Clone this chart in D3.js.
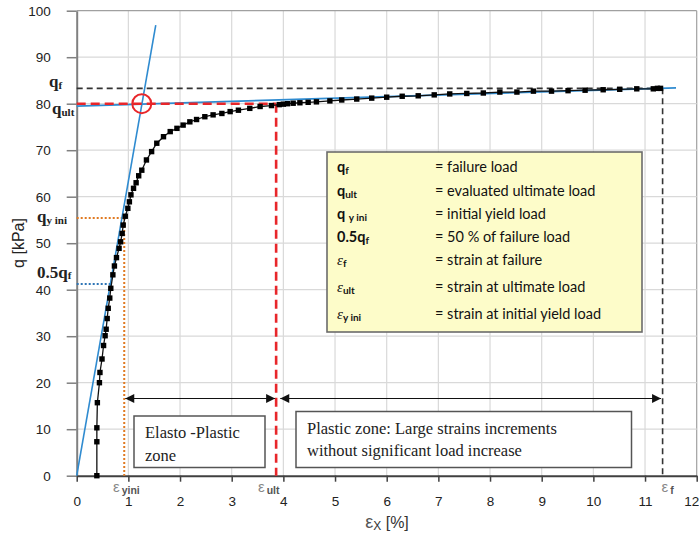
<!DOCTYPE html>
<html><head><meta charset="utf-8">
<script src="https://cdn.jsdelivr.net/npm/d3@7/dist/d3.min.js"></script>
<style>body{margin:0;background:#fff}svg{display:block}</style>
</head><body>
<svg id="c" width="699" height="542"></svg>
<script>
// ---- data ----
const strainX = [0.39,0.39,0.39,0.40,0.44,0.45,0.49,0.52,0.55,0.57,0.59,0.61,0.64,0.66,0.70,0.73,0.77,0.82,0.85,0.88,0.90,0.94,0.99,1.02,1.05,1.10,1.15,1.20,1.26,1.35,1.45,1.55,1.68,1.81,1.94,2.06,2.19,2.32,2.48,2.64,2.81,2.97,3.13,3.35,3.55,3.77,3.92,4.00,4.08,4.19,4.32,4.48,4.64,4.90,5.13,5.42,5.71,6.00,6.30,6.61,6.92,7.22,7.55,7.87,8.19,8.52,8.84,9.19,9.51,9.84,10.19,10.51,10.84,11.16,11.24,11.30];
const loadQ   = [0,7.3,10.3,15.7,20,22.2,25.1,28,30.1,31.5,33.8,36,38.2,40.3,43.2,45.1,46.9,48.9,50.3,52.1,53.9,55.8,57.5,58.9,60.4,61.8,63.0,64.5,65.7,67.9,69.7,71.5,72.9,74.0,74.7,75.4,76.1,76.6,77.2,77.6,77.9,78.3,78.6,79.0,79.4,79.6,79.8,79.9,80.0,80.1,80.2,80.3,80.4,80.6,80.8,81.0,81.2,81.4,81.6,81.7,81.9,82.1,82.2,82.3,82.5,82.5,82.7,82.7,82.8,82.9,83.0,83.1,83.2,83.2,83.3,83.3];
const xTicks = [0,1,2,3,4,5,6,7,8,9,10,11,12];
const yTicks = [0,10,20,30,40,50,60,70,80,90,100];
const elasticLine = [[0,0],[1.53,96.9]];
const plasticLine = [[0,79.5],[11.6,83.4]];
const qF = 83.3, qUlt = 80.0, qYini = 55.4, qHalf = 41.2;
const epsF = 11.34, epsUlt = 3.86, epsYini = 0.92, epsHalf = 0.68;
const arrowQ = 16.6;
const legendKeys = [["q","f","b"],["q","ult","b"],["q ","y ini","b"],["0.5q","f","b"],["ε","f","i"],["ε","ult","i"],["ε","y ini","i"]];
const legendTexts = ["= failure load","= evaluated ultimate load","= initial yield load","= 50 % of failure load","= strain at failure","= strain at ultimate load","= strain at initial yield load"];

// ---- drawing ----
const svg = d3.select("#c");
const x = d3.scaleLinear().domain([0,12]).range([76.7,696.7]);
const y = d3.scaleLinear().domain([0,100]).range([475.7,10.7]);
const SANS = "'Liberation Sans', Arial, sans-serif";
const SERIF = "'Liberation Serif', 'Times New Roman', serif";

// grid
svg.append("g").selectAll("line").data(xTicks.slice(1)).join("line")
  .attr("x1",d=>x(d)).attr("x2",d=>x(d)).attr("y1",y(0)).attr("y2",y(100))
  .attr("stroke",d=>d===12?"#a0a0a0":"#d9d9d9").attr("stroke-width",1.2);
svg.append("g").selectAll("line").data(yTicks.slice(1)).join("line")
  .attr("x1",x(0)).attr("x2",x(12)).attr("y1",d=>y(d)).attr("y2",d=>y(d))
  .attr("stroke",d=>d===100?"#a0a0a0":"#d9d9d9").attr("stroke-width",1.2);

// axes
const ay = svg.append("g").attr("transform",`translate(${x(0)},0)`)
  .call(d3.axisLeft(y).tickValues(yTicks).tickSize(10).tickPadding(16).tickSizeOuter(0));
ay.select(".domain").attr("stroke","#808080").attr("stroke-width",2);
ay.selectAll(".tick line").attr("stroke","#808080").attr("stroke-width",1.5);
ay.selectAll("text").attr("font-family",SANS).attr("font-size",13.5).attr("fill","#222");
const ax = svg.append("g").attr("transform",`translate(0,${y(0)})`)
  .call(d3.axisBottom(x).tickValues(xTicks).tickSize(6).tickPadding(15).tickSizeOuter(0));
ax.select(".domain").attr("stroke","#404040").attr("stroke-width",2);
ax.selectAll(".tick line").attr("stroke","#404040").attr("stroke-width",1.5);
ax.selectAll("text").attr("font-family",SANS).attr("font-size",13.5).attr("fill","#222");
ax.selectAll(".tick").filter(d=>d===12).select("text").attr("text-anchor","end").attr("dx",2);

// reference lines
const ref = (x1,y1,x2,y2,col,w,dash)=>svg.append("line").attr("x1",x(x1)).attr("y1",y(y1)).attr("x2",x(x2)).attr("y2",y(y2))
  .attr("stroke",col).attr("stroke-width",w).attr("stroke-dasharray",dash);
ref(0,qF,epsF,qF,"#333",1.6,"6,4");
ref(epsF,qF,epsF,0,"#333",1.6,"6,4");
ref(0,qYini,epsYini,qYini,"#e07a22",2,"2,2");
ref(epsYini,qYini,epsYini,0,"#e07a22",2,"2,2");
ref(0,qHalf,epsHalf,qHalf,"#2e75b6",2,"2,2");

// tangents
const lg = d3.line().x(d=>x(d[0])).y(d=>y(d[1]));
svg.append("path").attr("d",lg(elasticLine)).attr("stroke","#2f8bd0").attr("stroke-width",1.6).attr("fill","none");
svg.append("path").attr("d",lg(plasticLine)).attr("stroke","#2f8bd0").attr("stroke-width",1.8).attr("fill","none");

// red ultimate lines
ref(0,qUlt,epsUlt,qUlt,"#e8262a",2.6,"9,5");
ref(epsUlt,qUlt,epsUlt,0,"#e8262a",2.6,"9,5");

// curve
const pts = strainX.map((v,i)=>[v,loadQ[i]]);
svg.append("path").attr("d",lg(pts)).attr("stroke","#111").attr("stroke-width",1.3).attr("fill","none");
svg.append("g").selectAll("rect").data(pts).join("rect")
  .attr("x",d=>x(d[0])-2.7).attr("y",d=>y(d[1])-2.7).attr("width",5.4).attr("height",5.4).attr("fill","#000");

// circle
svg.append("circle").attr("cx",x(1.26)).attr("cy",y(80)).attr("r",9.5).attr("fill","none").attr("stroke","#e8262a").attr("stroke-width",2);

// arrows
const defs = svg.append("defs");
defs.append("marker").attr("id","ah").attr("viewBox","0 0 10 10").attr("refX",10).attr("refY",5)
  .attr("markerWidth",11).attr("markerHeight",9).attr("markerUnits","userSpaceOnUse").attr("orient","auto-start-reverse")
  .append("path").attr("d","M0,0L10,5L0,10Z").attr("fill","#111");
const arrow=(a,b)=>svg.append("line").attr("x1",x(a)).attr("x2",x(b)).attr("y1",y(arrowQ)).attr("y2",y(arrowQ))
  .attr("stroke","#111").attr("stroke-width",1.2).attr("marker-start","url(#ah)").attr("marker-end","url(#ah)");
arrow(epsYini+0.02,epsUlt-0.02);
arrow(epsUlt+0.08,epsF-0.03);

// zone boxes
const box=(x1,y1,x2,y2)=>svg.append("rect").attr("x",x1).attr("y",y1).attr("width",x2-x1).attr("height",y2-y1)
  .attr("fill","#fff").attr("stroke","#555").attr("stroke-width",1.5);
box(134,416,265,467.5);
box(296,411.5,631.5,467.5);
const st=(tx,ty,s)=>svg.append("text").attr("x",tx).attr("y",ty).attr("font-family",SERIF).attr("font-size",16.5).attr("fill","#222").text(s);
st(145,438,"Elasto -Plastic"); st(145,461,"zone");
st(307,434,"Plastic zone: Large strains increments"); st(307,456,"without significant load increase");

// legend box
svg.append("rect").attr("x",327).attr("y",152).attr("width",315).attr("height",180)
  .attr("fill","#fdfcc9").attr("stroke","#6b6b6b").attr("stroke-width",1.6);
const LEG = "Lato, 'Open Sans', sans-serif";
const rowY=[172,196,219,242,265,292,319];
legendKeys.forEach((k,i)=>{
  const t=svg.append("text").attr("x",337).attr("y",rowY[i]).attr("font-family",LEG).attr("fill","#111");
  if(k[2]==="b"){
    t.append("tspan").attr("font-size",14.5).attr("font-weight","bold").text(k[0]);
    t.append("tspan").attr("font-size",10).attr("font-weight","bold").attr("dy",2).text(k[1]);
  } else {
    t.append("tspan").attr("font-size",15).attr("font-style","italic").attr("font-family",SERIF).text(k[0]);
    t.append("tspan").attr("font-size",10).attr("font-weight","bold").attr("dy",2).text(k[1]);
  }
  svg.append("text").attr("x",435).attr("y",rowY[i]).attr("font-family",LEG).attr("font-size",14.5).attr("fill","#111").text(legendTexts[i]);
});

// left q labels
const ql=(tx,ty,a,b,sd)=>{const t=svg.append("text").attr("x",tx).attr("y",ty).attr("font-family",SERIF).attr("font-weight","bold").attr("fill","#222");
  t.append("tspan").attr("font-size",17).text(a); t.append("tspan").attr("font-size",11).attr("dy",sd).text(b);};
ql(49,y(qF)-1,"q","f",2);
ql(52,y(qUlt)+10,"q","ult",2);
ql(37,y(qYini)+4,"q","y ini",2);
ql(37,y(qHalf)-6,"0.5q","f",1);

// epsilon labels on x axis
const el=(tx,b)=>{const t=svg.append("text").attr("x",tx).attr("y",492).attr("font-family",SANS).attr("fill","#888");
  t.append("tspan").attr("font-size",15).attr("font-weight","300").text("ε");
  t.append("tspan").attr("font-size",10.5).attr("font-weight","bold").attr("fill","#555").attr("dx",2).attr("dy",1.5).text(b);};
el(113,"yini"); el(258,"ult"); el(661.5,"f");

// axis titles
svg.append("text").attr("transform","translate(24,243) rotate(-90)").attr("text-anchor","middle")
  .attr("font-family",SANS).attr("font-size",16).attr("fill","#222").text("q [kPa]");
const xt=svg.append("text").attr("x",387).attr("y",528).attr("text-anchor","middle").attr("font-family",SANS).attr("fill","#333");
xt.append("tspan").attr("font-size",18).attr("fill","#555").text("ε");
xt.append("tspan").attr("font-size",12).attr("dy",2).text("X");
xt.append("tspan").attr("font-size",16).attr("dy",-2).text(" [%]");
</script>
</body></html>
